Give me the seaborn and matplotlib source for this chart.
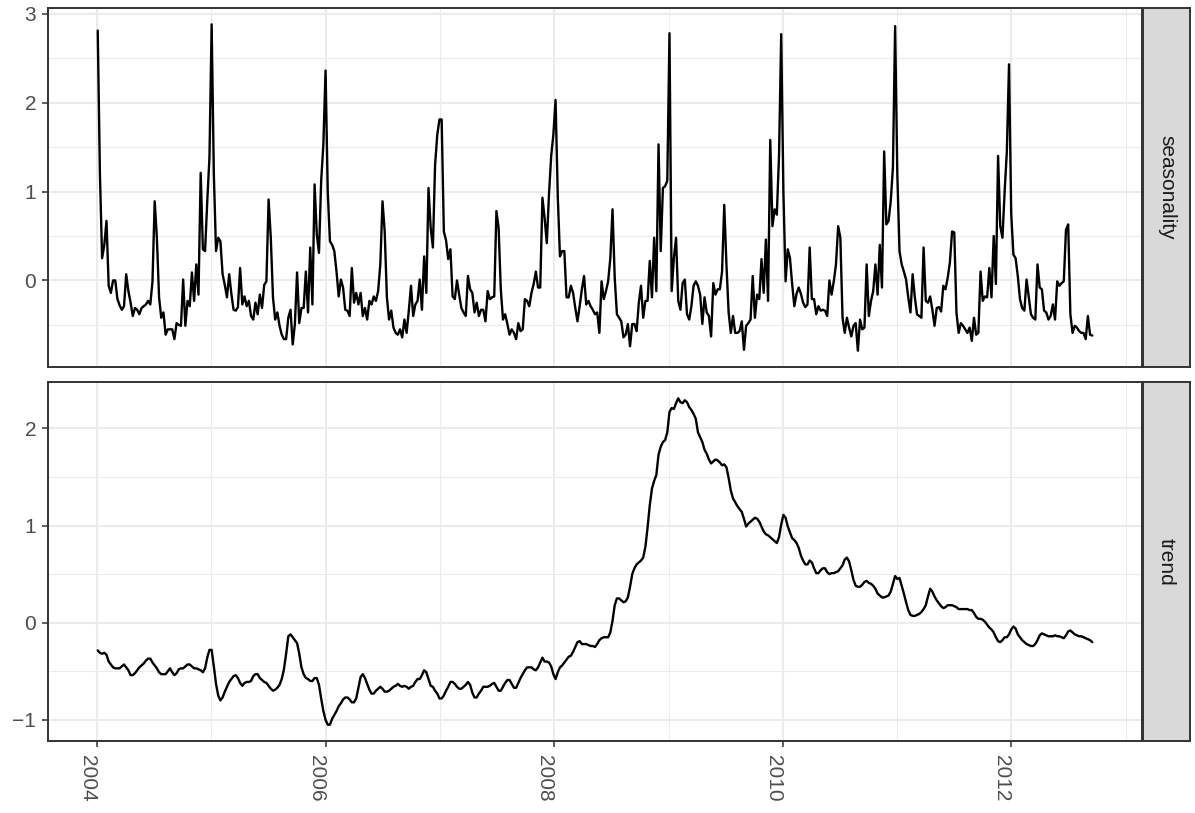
import numpy as np
import pandas as pd
import matplotlib
matplotlib.use("Agg")
import matplotlib.pyplot as plt
import matplotlib.dates as mdates
import seaborn as sns

# Weekly series, first week starting 2004-01-04
start_date = "2004-01-04"

seasonality_2004 = [2.81, 1.20, 0.25, 0.40, 0.67, -0.06, -0.14, 0.00, 0.00, -0.21,
                    -0.28, -0.33, -0.29, 0.07, -0.12, -0.25, -0.40, -0.31, -0.33, -0.38,
                    -0.31, -0.29, -0.27, -0.23, -0.27, -0.01, 0.89, 0.48, -0.19, -0.42,
                    -0.36, -0.61, -0.55, -0.55, -0.55, -0.66, -0.48, -0.50, -0.51, 0.01,
                    -0.51, -0.23, -0.29, 0.09, -0.23, 0.18, -0.16, 1.21, 0.35, 0.33,
                    0.89, 1.38]
seasonality_2005 = [2.88, 1.20, 0.33, 0.48, 0.44, 0.07, -0.05, -0.19, 0.07, -0.15,
                    -0.33, -0.34, -0.30, 0.14, -0.27, -0.18, -0.29, -0.23, -0.40, -0.44,
                    -0.25, -0.38, -0.16, -0.31, -0.05, -0.01, 0.91, 0.48, -0.19, -0.44,
                    -0.36, -0.51, -0.61, -0.66, -0.66, -0.42, -0.33, -0.72, -0.49, 0.09,
                    -0.48, -0.31, -0.31, 0.10, -0.36, 0.37, -0.27, 1.08, 0.52, 0.31,
                    1.12, 1.53]
seasonality_2006 = [2.36, 1.00, 0.44, 0.40, 0.33, 0.10, -0.18, 0.01, -0.08, -0.33,
                    -0.34, -0.40, 0.14, -0.25, -0.14, -0.27, -0.14, -0.40, -0.31, -0.44,
                    -0.23, -0.27, -0.18, -0.23, -0.12, 0.18, 0.89, 0.55, -0.19, -0.44,
                    -0.34, -0.53, -0.59, -0.61, -0.55, -0.64, -0.44, -0.59, -0.34, -0.06,
                    -0.40, -0.27, -0.23, 0.01, -0.33, 0.27, -0.14, 1.04, 0.59, 0.37,
                    1.30, 1.64]
seasonality_2007 = [1.81, 1.81, 0.55, 0.45, 0.24, 0.35, -0.18, -0.21, 0.00, -0.16,
                    -0.31, -0.36, -0.40, 0.05, -0.10, -0.14, -0.36, -0.25, -0.40, -0.33,
                    -0.33, -0.46, -0.12, -0.21, -0.19, -0.18, 0.78, 0.59, -0.10, -0.44,
                    -0.38, -0.49, -0.61, -0.55, -0.59, -0.66, -0.48, -0.57, -0.55, -0.21,
                    -0.23, -0.29, -0.14, -0.04, 0.10, -0.08, -0.08, 0.93, 0.70, 0.42,
                    0.97, 1.40]
seasonality_2008 = [1.64, 2.03, 0.95, 0.27, 0.33, 0.33, -0.19, -0.19, -0.06, -0.14,
                    -0.31, -0.46, -0.29, -0.10, 0.05, -0.27, -0.23, -0.29, -0.33, -0.38,
                    -0.36, -0.59, -0.01, -0.21, -0.12, -0.01, 0.25, 0.80, 0.03, -0.38,
                    -0.42, -0.46, -0.64, -0.61, -0.49, -0.74, -0.49, -0.49, -0.57, -0.25,
                    -0.06, -0.42, -0.23, -0.23, 0.22, -0.19, 0.48, -0.12, 1.53, 0.33,
                    1.04, 1.06]
seasonality_2009 = [1.12, 2.78, -0.12, 0.25, 0.48, -0.23, -0.33, -0.03, 0.01, -0.38,
                    -0.44, -0.29, -0.06, -0.01, -0.06, -0.16, -0.49, -0.19, -0.36, -0.40,
                    -0.63, -0.03, -0.16, -0.10, -0.10, 0.10, 0.85, 0.18, -0.36, -0.59,
                    -0.40, -0.59, -0.59, -0.57, -0.46, -0.78, -0.51, -0.48, -0.44, 0.05,
                    -0.42, -0.16, -0.21, 0.24, -0.14, 0.46, -0.23, 1.58, 0.61, 0.80,
                    0.74, 1.40]
seasonality_2010 = [2.77, 1.00, -0.01, 0.35, 0.25, -0.04, -0.29, -0.15, -0.08, -0.15,
                    -0.25, -0.30, -0.27, 0.37, -0.21, -0.21, -0.38, -0.29, -0.34, -0.33,
                    -0.34, -0.40, 0.00, -0.16, -0.01, 0.18, 0.61, 0.48, -0.42, -0.59,
                    -0.42, -0.53, -0.63, -0.51, -0.48, -0.79, -0.44, -0.55, -0.53, 0.18,
                    -0.40, -0.23, -0.12, 0.18, -0.16, 0.40, -0.08, 1.45, 0.63, 0.67,
                    0.89, 1.27]
seasonality_2011 = [2.86, 1.20, 0.33, 0.18, 0.10, 0.01, -0.19, -0.36, 0.07, -0.19,
                    -0.38, -0.40, -0.42, 0.37, -0.23, -0.25, -0.18, -0.33, -0.51, -0.31,
                    -0.30, -0.35, -0.06, -0.10, 0.03, 0.20, 0.55, 0.54, -0.36, -0.59,
                    -0.48, -0.51, -0.55, -0.59, -0.53, -0.68, -0.42, -0.61, -0.59, 0.10,
                    -0.23, -0.18, -0.19, 0.14, -0.19, 0.50, -0.04, 1.40, 0.61, 0.48,
                    1.00, 1.45]
seasonality_2012 = [2.43, 0.75, 0.29, 0.25, 0.05, -0.21, -0.31, -0.34, 0.01, -0.19,
                    -0.38, -0.42, -0.44, 0.18, -0.08, -0.10, -0.34, -0.36, -0.44, -0.40,
                    -0.27, -0.44, -0.01, -0.06, -0.03, -0.01, 0.57, 0.63, -0.38, -0.59,
                    -0.51, -0.53, -0.57, -0.59, -0.59, -0.66, -0.40, -0.61, -0.62]

trend_2004 = [-0.285, -0.31, -0.32, -0.31, -0.33, -0.40, -0.43, -0.46, -0.47, -0.47,
              -0.47, -0.45, -0.43, -0.46, -0.49, -0.54, -0.54, -0.52, -0.49, -0.46,
              -0.44, -0.42, -0.39, -0.37, -0.37, -0.41, -0.44, -0.47, -0.51, -0.53,
              -0.53, -0.53, -0.50, -0.47, -0.51, -0.54, -0.52, -0.48, -0.47, -0.47,
              -0.45, -0.43, -0.43, -0.45, -0.47, -0.47, -0.48, -0.49, -0.51, -0.47,
              -0.36, -0.28]
trend_2005 = [-0.28, -0.45, -0.63, -0.75, -0.80, -0.77, -0.71, -0.66, -0.61, -0.58,
              -0.55, -0.54, -0.57, -0.62, -0.65, -0.62, -0.61, -0.61, -0.60, -0.55,
              -0.53, -0.53, -0.57, -0.59, -0.61, -0.62, -0.65, -0.68, -0.70, -0.69,
              -0.67, -0.64, -0.58, -0.48, -0.32, -0.14, -0.12, -0.15, -0.18, -0.21,
              -0.32, -0.46, -0.53, -0.57, -0.58, -0.60, -0.60, -0.57, -0.57, -0.64,
              -0.78, -0.91]
trend_2006 = [-1.00, -1.05, -1.05, -0.99, -0.95, -0.91, -0.86, -0.83, -0.79, -0.77,
              -0.77, -0.79, -0.82, -0.82, -0.78, -0.67, -0.56, -0.53, -0.57, -0.63,
              -0.69, -0.73, -0.73, -0.70, -0.68, -0.66, -0.68, -0.71, -0.71, -0.70,
              -0.68, -0.66, -0.65, -0.63, -0.65, -0.66, -0.65, -0.66, -0.68, -0.66,
              -0.65, -0.61, -0.58, -0.58, -0.54, -0.49, -0.51, -0.58, -0.65, -0.66,
              -0.70, -0.73]
trend_2007 = [-0.78, -0.78, -0.75, -0.70, -0.66, -0.61, -0.61, -0.63, -0.66, -0.68,
              -0.68, -0.66, -0.64, -0.61, -0.64, -0.72, -0.77, -0.77, -0.73, -0.70,
              -0.66, -0.66, -0.66, -0.65, -0.63, -0.62, -0.66, -0.70, -0.70, -0.66,
              -0.62, -0.59, -0.59, -0.63, -0.67, -0.67, -0.62, -0.57, -0.53, -0.49,
              -0.46, -0.46, -0.46, -0.48, -0.49, -0.46, -0.41, -0.36, -0.40, -0.40,
              -0.41, -0.45]
trend_2008 = [-0.53, -0.58, -0.51, -0.46, -0.44, -0.41, -0.38, -0.35, -0.34, -0.30,
              -0.25, -0.20, -0.19, -0.22, -0.22, -0.22, -0.23, -0.24, -0.24, -0.25,
              -0.22, -0.18, -0.16, -0.15, -0.15, -0.15, -0.10, 0.02, 0.18, 0.25,
              0.25, 0.23, 0.21, 0.22, 0.26, 0.37, 0.50, 0.56, 0.60, 0.62,
              0.64, 0.67, 0.78, 0.98, 1.21, 1.38, 1.46, 1.52, 1.73, 1.81,
              1.86, 1.88]
trend_2009 = [1.96, 2.17, 2.21, 2.20, 2.26, 2.31, 2.27, 2.26, 2.29, 2.27,
              2.22, 2.19, 2.15, 2.10, 1.96, 1.91, 1.86, 1.78, 1.74, 1.68,
              1.64, 1.66, 1.68, 1.67, 1.65, 1.62, 1.63, 1.60, 1.49, 1.36,
              1.28, 1.24, 1.20, 1.17, 1.14, 1.07, 0.99, 1.02, 1.04, 1.06,
              1.08, 1.07, 1.04, 0.99, 0.94, 0.91, 0.90, 0.88, 0.86, 0.84,
              0.82, 0.88]
trend_2010 = [1.01, 1.11, 1.08, 0.99, 0.93, 0.87, 0.85, 0.82, 0.77, 0.69,
              0.64, 0.60, 0.60, 0.64, 0.62, 0.56, 0.51, 0.51, 0.54, 0.56,
              0.56, 0.52, 0.50, 0.51, 0.51, 0.52, 0.53, 0.56, 0.59, 0.65,
              0.67, 0.63, 0.54, 0.44, 0.38, 0.37, 0.37, 0.39, 0.42, 0.43,
              0.41, 0.40, 0.38, 0.35, 0.30, 0.28, 0.26, 0.26, 0.27, 0.28,
              0.32, 0.40]
trend_2011 = [0.48, 0.45, 0.46, 0.38, 0.30, 0.21, 0.13, 0.08, 0.07, 0.07,
              0.08, 0.09, 0.11, 0.14, 0.18, 0.27, 0.35, 0.32, 0.27, 0.23,
              0.20, 0.17, 0.15, 0.16, 0.18, 0.18, 0.18, 0.17, 0.16, 0.14,
              0.14, 0.14, 0.14, 0.14, 0.13, 0.13, 0.10, 0.06, 0.04, 0.04,
              0.03, 0.01, -0.02, -0.05, -0.07, -0.10, -0.15, -0.19, -0.20, -0.18,
              -0.15, -0.15]
trend_2012 = [-0.12, -0.07, -0.04, -0.06, -0.12, -0.15, -0.18, -0.20, -0.22, -0.23,
              -0.24, -0.24, -0.22, -0.18, -0.13, -0.11, -0.12, -0.13, -0.14, -0.14,
              -0.14, -0.13, -0.14, -0.14, -0.15, -0.16, -0.13, -0.09, -0.08, -0.10,
              -0.12, -0.13, -0.14, -0.14, -0.15, -0.16, -0.17, -0.18, -0.20]

components = ["seasonality", "trend"]

seasonality = (seasonality_2004 + seasonality_2005 + seasonality_2006 + seasonality_2007
               + seasonality_2008 + seasonality_2009 + seasonality_2010 + seasonality_2011
               + seasonality_2012)
trend = (trend_2004 + trend_2005 + trend_2006 + trend_2007 + trend_2008
         + trend_2009 + trend_2010 + trend_2011 + trend_2012)

dates = pd.date_range(start_date, periods=len(seasonality), freq="7D")
df = pd.concat([
    pd.DataFrame({"date": dates, "value": seasonality, "component": "seasonality"}),
    pd.DataFrame({"date": dates, "value": trend, "component": "trend"}),
], ignore_index=True)

sns.set_style("white")
plt.rcParams["font.family"] = ["Liberation Sans", "DejaVu Sans"]
plt.rcParams["axes.unicode_minus"] = True

W, H = 1195, 813
fig = plt.figure(figsize=(W / 100, H / 100), dpi=100)
fig.patch.set_facecolor("white")

def px_axes(left, top, right, bottom):
    return fig.add_axes([left / W, 1 - bottom / H, (right - left) / W, (bottom - top) / H])

FS = 15
BORDER = "#333333"
GRID = "#EBEBEB"
panel_left, panel_right = 48, 1142
strip_left, strip_right = 1143, 1190
rows = {"seasonality": (8, 367), "trend": (382, 741)}

x0 = mdates.date2num(dates[0])
x1 = mdates.date2num(dates[-1])
xpad = 0.05 * (x1 - x0)

for i, comp in enumerate(components):
    top, bottom = rows[comp]
    ax = px_axes(panel_left, top, panel_right, bottom)
    sub = df[df["component"] == comp]
    sns.lineplot(data=sub, x="date", y="value", ax=ax, color="black",
                 linewidth=1.7, estimator=None, legend=False)

    vmin, vmax = sub["value"].min(), sub["value"].max()
    ypad = 0.05 * (vmax - vmin)
    ax.set_ylim(vmin - ypad, vmax + ypad)
    ax.set_xlim(x0 - xpad, x1 + xpad)

    lo, hi = np.floor(vmin), np.ceil(vmax)
    majors = [v for v in np.arange(lo, hi + 1) if vmin - ypad <= v <= vmax + ypad]
    minors = [v + 0.5 for v in np.arange(lo - 1, hi + 1) if vmin - ypad <= v + 0.5 <= vmax + ypad]
    ax.set_yticks(majors)
    ax.set_yticks(minors, minor=True)
    ax.set_yticklabels([f"{int(v)}" if v >= 0 else f"\u2212{int(-v)}" for v in majors])

    ax.xaxis.set_major_locator(mdates.YearLocator(base=2))
    ax.xaxis.set_minor_locator(mdates.YearLocator(base=1))
    ax.xaxis.set_major_formatter(mdates.DateFormatter("%Y"))

    ax.set_axisbelow(True)
    ax.grid(which="major", color=GRID, linewidth=1.5)
    ax.grid(which="minor", color=GRID, linewidth=0.75)
    for s in ax.spines.values():
        s.set_visible(True)
        s.set_color(BORDER)
        s.set_linewidth(1.4)

    ax.set_xlabel("")
    ax.set_ylabel("")
    ax.tick_params(axis="both", which="major", length=4, width=1.1, color=BORDER,
                   labelcolor="#4D4D4D", labelsize=FS)
    ax.tick_params(axis="y", which="major", pad=4.5)
    ax.tick_params(axis="x", which="major", pad=6)
    ax.tick_params(axis="both", which="minor", length=0)
    ax.tick_params(axis="y", left=True, right=False)
    if i < len(components) - 1:
        ax.tick_params(axis="x", bottom=False, labelbottom=False)
    else:
        ax.tick_params(axis="x", bottom=True)
        for lab in ax.get_xticklabels():
            lab.set_rotation(-90)
            lab.set_ha("right")
            lab.set_va("top")

    # facet strip on the right
    sax = px_axes(strip_left, top, strip_right, bottom)
    sax.set_facecolor("#D9D9D9")
    sax.set_xticks([])
    sax.set_yticks([])
    for s in sax.spines.values():
        s.set_visible(True)
        s.set_color(BORDER)
        s.set_linewidth(1.4)
    sax.text(0.5, 0.5, comp, rotation=-90, ha="center", va="center",
             fontsize=FS, color="#1A1A1A", transform=sax.transAxes)

fig.savefig("out.png", dpi=100, facecolor="white")
